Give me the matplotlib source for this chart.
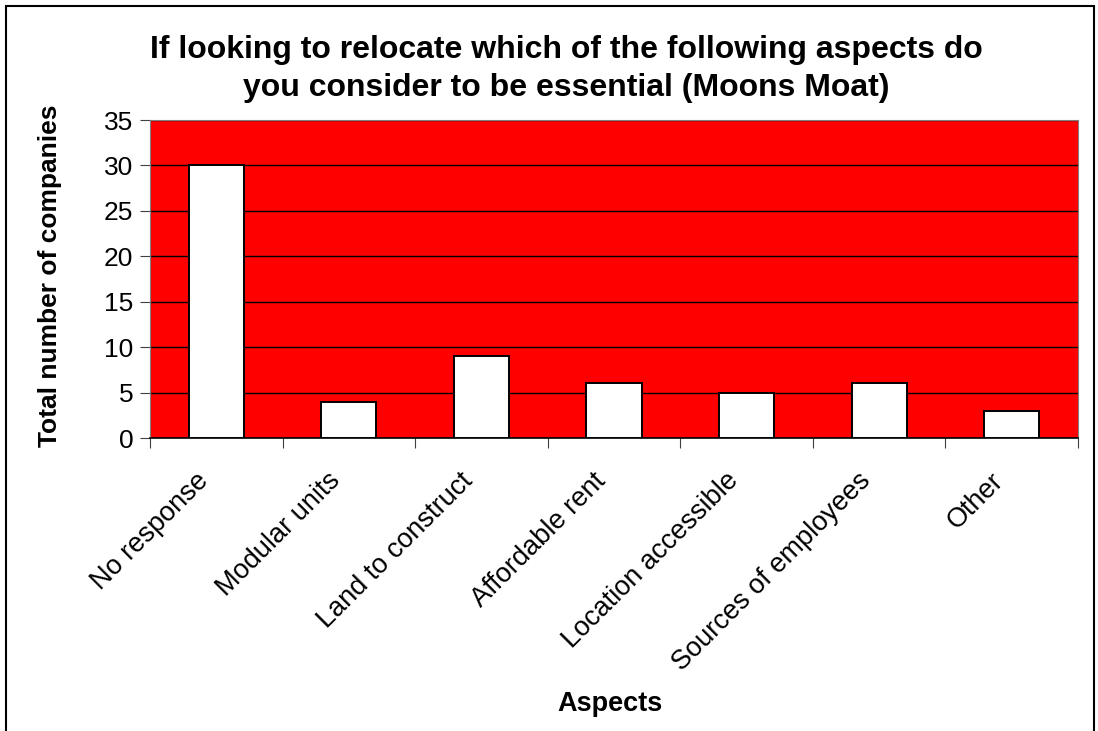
import matplotlib
matplotlib.use('Agg')
import matplotlib.pyplot as plt
import matplotlib.patches as patches

plt.rcParams['font.family'] = ['Liberation Sans', 'DejaVu Sans']

# 데이터
categories = ['No response', 'Modular units', 'Land to construct', 'Affordable rent',
              'Location accessible', 'Sources of employees', 'Other']
counts = [30, 4, 9, 6, 5, 6, 3]
y_ticks = [0, 5, 10, 15, 20, 25, 30, 35]

W, H = 1098, 731
fig = plt.figure(figsize=(W / 100, H / 100), dpi=100)

# 플롯 영역 (픽셀 기준)
left, right, top, bottom = 150, 1078, 120, 438
ax = fig.add_axes([left / W, 1 - bottom / H, (right - left) / W, (bottom - top) / H])
ax.set_facecolor('#FF0000')

x = list(range(len(categories)))
ax.bar(x, counts, width=0.415, color='white', edgecolor='black', linewidth=1.4, zorder=3)

ax.set_xlim(-0.5, len(categories) - 0.5)
ax.set_ylim(0, 35)
ax.set_yticks(y_ticks)
ax.set_yticklabels([str(v) for v in y_ticks], fontsize=19)
ax.yaxis.grid(True, color='black', linewidth=1)
ax.set_axisbelow(True)

# x 눈금은 카테고리 경계에, 라벨은 45도 회전
ax.set_xticks([i - 0.5 for i in range(len(categories) + 1)])
ax.set_xticklabels([])
ax.tick_params(axis='x', length=7, color='#404040', direction='out')
ax.tick_params(axis='y', length=7, color='#404040', direction='out', pad=5)
xoff = -12 / ((right - left) / len(categories))
yoff = -(477 - bottom) / (bottom - top)
for i, name in zip(x, categories):
    ax.text(i + xoff, yoff, name, transform=ax.get_xaxis_transform(),
            rotation=45, ha='right', va='center', rotation_mode='anchor', fontsize=19.5)

ax.spines['top'].set_color('#808080')
ax.spines['left'].set_color('#808080')
ax.spines['right'].set_color('#808080')
ax.spines['bottom'].set_color('black')
ax.spines['bottom'].set_linewidth(1.2)

fig.text(50 / W, 1 - 276 / H, 'Total number of companies', rotation=90,
         ha='center', va='center', fontsize=19, fontweight='bold')

fig.text(566 / W, 1 - 69 / H,
         'If looking to relocate which of the following aspects do\nyou consider to be essential (Moons Moat)',
         ha='center', va='center', fontsize=23, fontweight='bold', linespacing=1.32)
fig.text(610 / W, 1 - 704 / H, 'Aspects', ha='center', va='center', fontsize=19.5, fontweight='bold')

# 그림 테두리
border = patches.Rectangle((6 / W, -0.05), (1094 - 6) / W, 1.05 - 6 / H,
                           transform=fig.transFigure, fill=False, edgecolor='black',
                           linewidth=1.5, clip_on=False)
fig.patches.append(border)

fig.savefig('out.png', dpi=100, facecolor='white')
